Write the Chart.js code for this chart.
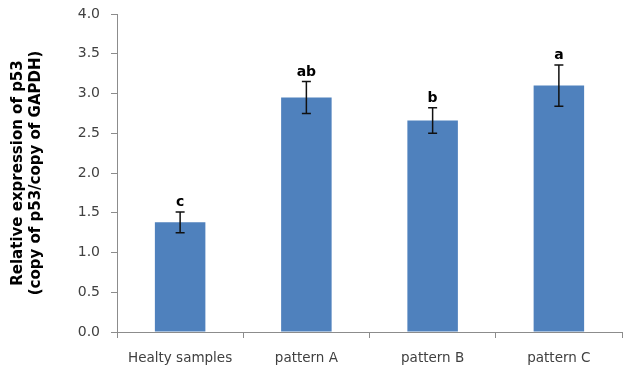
<!DOCTYPE html>
<html lang="en">
<head>
  <meta charset="UTF-8" />
  <title>Relative expression of p53</title>
  <script src="https://cdn.jsdelivr.net/npm/chart.js"></script>
  <style>
    * { margin: 0; padding: 0; box-sizing: border-box; }
    body { background: #ffffff; width: 643px; height: 370px; overflow: hidden; }
    #wrap { position: relative; width: 643px; height: 370px; }
  </style>
</head>
<body>
  <div id="wrap"><canvas id="p53Chart"></canvas></div>

  <script>
    // data
    const categories = ['Healty samples', 'pattern A', 'pattern B', 'pattern C'];
    const means = [1.38, 2.95, 2.66, 3.10];
    const errors = [0.13, 0.20, 0.16, 0.26];
    const letters = ['c', 'ab', 'b', 'a'];
    const yTicks = [0, 0.5, 1, 1.5, 2, 2.5, 3, 3.5, 4];

    const axisGrey = '#8c8c8c';
    const textGrey = '#404040';

    // error bars + significance letters
    const errorBarPlugin = {
      id: 'errorBars',
      afterDatasetsDraw(chart) {
        const { ctx, scales: { x, y } } = chart;
        ctx.save();
        ctx.strokeStyle = '#111111';
        ctx.lineWidth = 1.5;
        means.forEach((m, i) => {
          const cx = x.getPixelForValue(i);
          const top = y.getPixelForValue(m + errors[i]);
          const bot = y.getPixelForValue(m - errors[i]);
          ctx.beginPath();
          ctx.moveTo(cx, top); ctx.lineTo(cx, bot);
          ctx.moveTo(cx - 4.5, top); ctx.lineTo(cx + 4.5, top);
          ctx.moveTo(cx - 4.5, bot); ctx.lineTo(cx + 4.5, bot);
          ctx.stroke();

          ctx.fillStyle = '#000000';
          ctx.font = 'bold 14px "DejaVu Sans"';
          ctx.textAlign = 'center';
          ctx.textBaseline = 'alphabetic';
          ctx.fillText(letters[i], cx, top - 6);
        });
        ctx.restore();
      }
    };

    const ctx = document.getElementById('p53Chart').getContext('2d');
    new Chart(ctx, {
      type: 'bar',
      data: {
        labels: categories,
        datasets: [{
          data: means,
          backgroundColor: '#4F81BD',
          borderWidth: 0,
          categoryPercentage: 1,
          barPercentage: 0.4
        }]
      },
      options: {
        responsive: true,
        maintainAspectRatio: false,
        animation: false,
        layout: { padding: { top: 14, right: 21, left: 9, bottom: 0 } },
        plugins: {
          legend: { display: false },
          tooltip: { enabled: false }
        },
        scales: {
          x: {
            offset: true,
            grid: {
              offset: true,
              drawOnChartArea: false,
              drawTicks: true,
              tickLength: 6,
              color: axisGrey
            },
            border: { display: true, color: axisGrey, width: 1 },
            ticks: {
              color: textGrey,
              padding: 12,
              font: { family: '"DejaVu Sans"', size: 13.5 }
            },
            afterFit(scale) { scale.height = 38; }
          },
          y: {
            min: 0,
            max: 4,
            afterBuildTicks(scale) {
              scale.ticks = yTicks.map(v => ({ value: v }));
            },
            grid: {
              drawOnChartArea: false,
              drawTicks: true,
              tickLength: 6,
              color: axisGrey
            },
            border: { display: true, color: axisGrey, width: 1 },
            ticks: {
              color: textGrey,
              padding: 11,
              font: { family: '"DejaVu Sans"', size: 14 },
              callback: v => Number(v).toFixed(1)
            },
            title: {
              display: true,
              text: ['Relative expression of p53', '(copy of p53/copy of GAPDH)'],
              color: '#000000',
              padding: { top: 0, bottom: 4 },
              font: { family: '"DejaVu Sans"', size: 15, weight: 'bold', lineHeight: 1.2 }
            },
            afterFit(scale) {
              scale.width = 108;
              scale.paddingTop = 0;
              scale.paddingBottom = 0;
            }
          }
        }
      },
      plugins: [errorBarPlugin]
    });
  </script>
</body>
</html>
